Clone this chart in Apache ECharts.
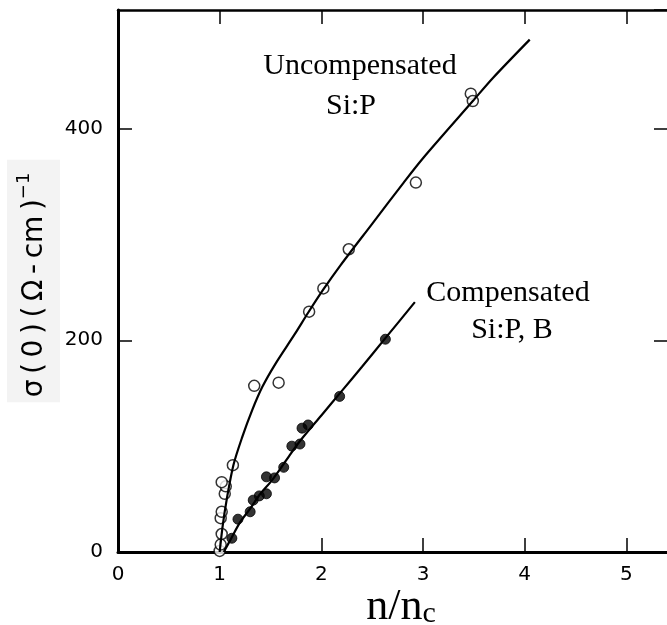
<!DOCTYPE html>
<html>
<head>
<meta charset="utf-8">
<script src="https://cdn.jsdelivr.net/npm/echarts@6/dist/echarts.min.js"></script>
<style>
    body { margin: 0; background: #fff; }
    #main { width: 667px; height: 625px; }
</style>
</head>
<body>
<div id="main"></div>
<script>
// open circles: uncompensated Si:P
var openX = [1.00, 1.01, 1.02, 1.01, 1.02, 1.05, 1.06, 1.02, 1.13, 1.34, 1.58, 1.88, 2.02, 2.27, 2.93, 3.47, 3.49];
var openY = [1, 7, 17, 32, 38, 55, 62, 66, 82, 157, 160, 227, 249, 286, 349, 433, 426];

// filled circles: compensated Si:P,B
var filledX = [1.12, 1.18, 1.30, 1.33, 1.39, 1.46, 1.46, 1.54, 1.63, 1.71, 1.79, 1.81, 1.87, 2.18, 2.63];
var filledY = [13, 31, 38, 49, 53, 55, 71, 70, 80, 100, 102, 117, 120, 147, 201];

// drawn curves
var uncompCurveX = [1.00, 1.03, 1.07, 1.135, 1.22, 1.32, 1.42, 1.55, 1.74, 1.87, 2.02, 2.19, 2.50, 2.81, 3.00, 3.49, 3.69, 4.05];
var uncompCurveY = [0, 25, 50, 82, 108, 134, 156, 178, 206, 226, 248, 271, 310, 349, 372, 426, 448, 484];
var compCurveX = [1.04, 1.12, 1.20, 1.30, 1.40, 1.50, 1.60, 1.70, 1.80, 2.00, 2.20, 2.40, 2.63, 2.92];
var compCurveY = [0, 14, 28, 41, 55, 66, 79, 93, 106, 129, 152, 175, 202, 236];

var xTicks = [0, 1, 2, 3, 4, 5];
var yTicks = [0, 200, 400];

function pairs (xs, ys) {
    return xs.map(function (x, i) { return [x, ys[i]]; });
}

var tickFont = { color: '#000', fontFamily: 'DejaVu Sans', fontSize: 20 };
var tickStyle = { inside: true, length: 14, lineStyle: { color: '#000', width: 1.5 } };

var myChart = echarts.init(document.getElementById('main'));
myChart.setOption({
    animation: false,
    grid: { left: 118, top: 10, width: 550, bottom: 73, outerBoundsMode: 'none', containLabel: false },
    xAxis: [
        {
            type: 'value', position: 'bottom', min: 0, max: 5.41, interval: 1,
            splitLine: { show: false },
            axisLine: { onZero: false, lineStyle: { color: '#000', width: 3 } },
            axisTick: tickStyle,
            axisLabel: Object.assign({ margin: 13, showMaxLabel: false,
                formatter: function (v) { return xTicks.indexOf(v) >= 0 ? String(v) : ''; } }, tickFont),
            name: '{a|n/n}{b|c}',
            nameLocation: 'middle',
            nameGap: 33,
            nameMoveOverlap: false,
            nameTextStyle: {
                padding: [0, 0, 0, 16],
                rich: {
                    a: { fontFamily: 'Liberation Serif', fontSize: 44, color: '#000', lineHeight: 44 },
                    b: { fontFamily: 'Liberation Serif', fontSize: 30, color: '#000', lineHeight: 30, verticalAlign: 'bottom', padding: [20, 0, 0, 0] }
                }
            }
        },
        {
            type: 'value', position: 'top', min: 0, max: 5.41, interval: 1,
            splitLine: { show: false },
            axisLine: { onZero: false, lineStyle: { color: '#000', width: 2.5 } },
            axisTick: tickStyle,
            axisLabel: { show: false }
        }
    ],
    yAxis: [
        {
            type: 'value', position: 'left', min: 0, max: 512, interval: 200,
            splitLine: { show: false },
            axisLine: { show: true, onZero: false, lineStyle: { color: '#000', width: 3 } },
            axisTick: Object.assign({ show: true }, tickStyle),
            axisLabel: Object.assign({ margin: 15, showMaxLabel: false,
                formatter: function (v) { return yTicks.indexOf(v) >= 0 ? String(v) : ''; } }, tickFont),
            name: '{m|σ\u2009(\u20090\u2009)\u2009(\u2009Ω\u2009-\u2009cm\u2009)}{s|\u22121}',
            nameLocation: 'middle',
            nameRotate: 90,
            nameGap: 58,
            nameMoveOverlap: false,
            nameTextStyle: {
                backgroundColor: '#f3f3f3',
                padding: [8, 13, 5, 5],
                rich: {
                    m: { fontFamily: 'DejaVu Sans', fontSize: 28, color: '#000', lineHeight: 40 },
                    s: { fontFamily: 'DejaVu Sans', fontSize: 18, color: '#000', lineHeight: 14, verticalAlign: 'top' }
                }
            }
        },
        {
            type: 'value', position: 'right', min: 0, max: 512, interval: 200,
            splitLine: { show: false },
            axisLine: { show: true, onZero: false, lineStyle: { color: '#000', width: 2.5 } },
            axisTick: Object.assign({ show: true }, tickStyle),
            axisLabel: { show: false }
        }
    ],
    graphic: [
        { type: 'text', x: 360, y: 66, style: { text: 'Uncompensated', font: '30px "Liberation Serif"', fill: '#000', textAlign: 'center', textVerticalAlign: 'middle' } },
        { type: 'text', x: 351, y: 106, style: { text: 'Si:P', font: '30px "Liberation Serif"', fill: '#000', textAlign: 'center', textVerticalAlign: 'middle' } },
        { type: 'text', x: 508, y: 293, style: { text: 'Compensated', font: '30px "Liberation Serif"', fill: '#000', textAlign: 'center', textVerticalAlign: 'middle' } },
        { type: 'text', x: 512, y: 330, style: { text: 'Si:P, B', font: '30px "Liberation Serif"', fill: '#000', textAlign: 'center', textVerticalAlign: 'middle' } }
    ],
    series: [
        {
            type: 'line', data: pairs(uncompCurveX, uncompCurveY),
            smooth: 0.3, showSymbol: false, silent: true,
            lineStyle: { color: '#000', width: 2.2 }
        },
        {
            type: 'line', data: pairs(compCurveX, compCurveY),
            smooth: 0.3, showSymbol: false, silent: true,
            lineStyle: { color: '#000', width: 2.2 }
        },
        {
            type: 'scatter', data: pairs(filledX, filledY),
            symbol: 'circle', symbolSize: 10,
            itemStyle: { color: '#000', borderColor: '#000', borderWidth: 1 }
        },
        {
            type: 'scatter', data: pairs(openX, openY),
            symbol: 'circle', symbolSize: 11,
            itemStyle: { color: '#fff', borderColor: '#000', borderWidth: 1.5 }
        }
    ]
});

window.addEventListener('resize', function () {
    myChart.resize();
});
</script>
</body>
</html>
